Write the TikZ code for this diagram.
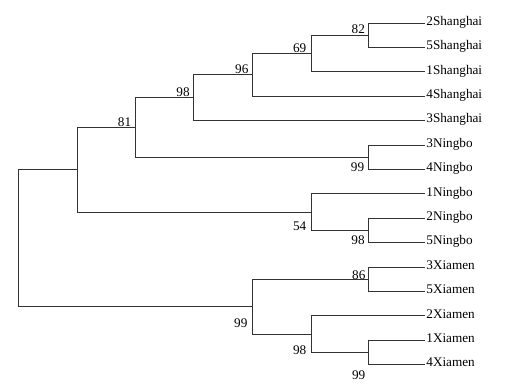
\documentclass[tikz,border=0pt]{standalone}
\usepackage{fontspec}
\setmainfont{Liberation Serif}
\begin{document}
\begin{tikzpicture}[x=1pt,y=-1pt,
  edge/.style={draw=black!80,line width=0.9pt},
  leaf/.style={anchor=mid west,inner sep=1.2pt,font=\fontsize{13.2}{14}\selectfont},
  boot/.style={anchor=center,inner sep=0pt,font=\fontsize{13.2}{14}\selectfont}]
\useasboundingbox[fill=white] (0,0) rectangle (506,384);
% leaves
\node[leaf] (t1)  at (425,23)    {2Shanghai};
\node[leaf] (t2)  at (425,47.4)  {5Shanghai};
\node[leaf] (t3)  at (425,71.8)  {1Shanghai};
\node[leaf] (t4)  at (425,96.2)  {4Shanghai};
\node[leaf] (t5)  at (425,120.6) {3Shanghai};
\node[leaf] (t6)  at (425,145)   {3Ningbo};
\node[leaf] (t7)  at (425,169.4) {4Ningbo};
\node[leaf] (t8)  at (425,193.8) {1Ningbo};
\node[leaf] (t9)  at (425,218.2) {2Ningbo};
\node[leaf] (t10) at (425,242.6) {5Ningbo};
\node[leaf] (t11) at (425,267)   {3Xiamen};
\node[leaf] (t12) at (425,291.4) {5Xiamen};
\node[leaf] (t13) at (425,315.8) {2Xiamen};
\node[leaf] (t14) at (425,340.2) {1Xiamen};
\node[leaf] (t15) at (425,364.6) {4Xiamen};
% internal nodes
\coordinate (n82)  at (368,35.2);
\coordinate (n69)  at (311,53.5);
\coordinate (n96)  at (252,74.85);
\coordinate (n98a) at (193,97.7);
\coordinate (nN34) at (368,157.2);
\coordinate (n81)  at (135,127.5);
\coordinate (nN25) at (368,230.4);
\coordinate (n54)  at (311,212.1);
\coordinate (nSN)  at (77,169.8);
\coordinate (nX35) at (368,279.2);
\coordinate (nX14) at (368,352.4);
\coordinate (nX98) at (311,334.1);
\coordinate (nX99) at (252,306.65);
\coordinate (root) at (18,238.2);
% edges
\draw[edge] (n82) |- (t1.mid west);
\draw[edge] (n82) |- (t2.mid west);
\draw[edge] (n69) |- (n82);
\draw[edge] (n69) |- (t3.mid west);
\draw[edge] (n96) |- (n69);
\draw[edge] (n96) |- (t4.mid west);
\draw[edge] (n98a) |- (n96);
\draw[edge] (n98a) |- (t5.mid west);
\draw[edge] (nN34) |- (t6.mid west);
\draw[edge] (nN34) |- (t7.mid west);
\draw[edge] (n81) |- (n98a);
\draw[edge] (n81) |- (nN34);
\draw[edge] (nN25) |- (t9.mid west);
\draw[edge] (nN25) |- (t10.mid west);
\draw[edge] (n54) |- (t8.mid west);
\draw[edge] (n54) |- (nN25);
\draw[edge] (nSN) |- (n81);
\draw[edge] (nSN) |- (n54);
\draw[edge] (nX35) |- (t11.mid west);
\draw[edge] (nX35) |- (t12.mid west);
\draw[edge] (nX14) |- (t14.mid west);
\draw[edge] (nX14) |- (t15.mid west);
\draw[edge] (nX98) |- (t13.mid west);
\draw[edge] (nX98) |- (nX14);
\draw[edge] (nX99) |- (nX35);
\draw[edge] (nX99) |- (nX98);
\draw[edge] (root) |- (nSN);
\draw[edge] (root) |- (nX99);
% bootstrap values
\node[boot] (b82)  at (358.3,28.8)  {82};
\node[boot] (b69)  at (299.7,47.7)  {69};
\node[boot] (b96)  at (241.8,69.5)  {96};
\node[boot] (b98a) at (183,92.5)    {98};
\node[boot] (b81)  at (124.5,122.5) {81};
\node[boot] (b99n) at (357.5,166.7) {99};
\node[boot] (b54)  at (299.7,226.2) {54};
\node[boot] (b98n) at (358,240.5)   {98};
\node[boot] (b86)  at (358.8,275.2) {86};
\node[boot] (b99x) at (240.8,323)   {99};
\node[boot] (b98x) at (299.7,350)   {98};
\node[boot] (b99b) at (358.7,374.7) {99};
\end{tikzpicture}
\end{document}
